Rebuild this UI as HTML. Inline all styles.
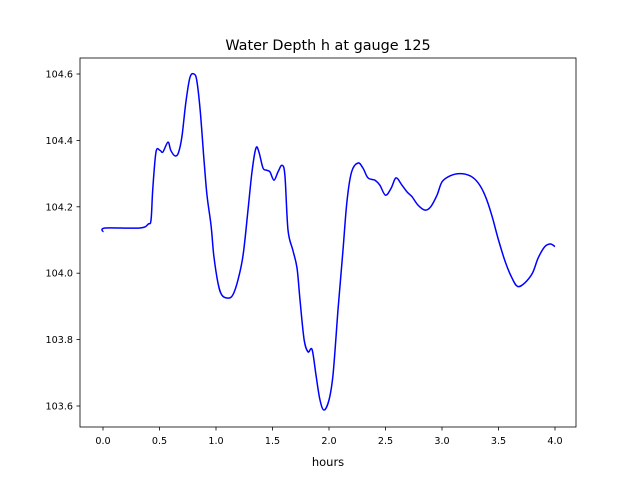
<!DOCTYPE html>
<html><head><meta charset="utf-8"><style>
html,body{margin:0;padding:0;background:#fff;}
svg{display:block;font-family:"DejaVu Sans","Liberation Sans",sans-serif;}
</style></head><body>
<svg id="chart" width="640" height="480">
<rect x="0" y="0" width="640" height="480" fill="#fff"/>
<text x="328" y="50" text-anchor="middle" font-size="14.4" fill="#000">Water Depth h at gauge 125</text>
<g id="axes"></g>
<text x="328" y="466" text-anchor="middle" font-size="11.5" fill="#000">hours</text>
</svg>
<script>
const hours=[0,0.02,0.327,0.40,0.425,0.44,0.469,0.504,0.53,0.575,0.60,0.64,0.67,0.70,0.735,0.77,0.805,0.83,0.86,0.894,0.92,0.956,0.98,1.018,1.05,1.106,1.15,1.195,1.24,1.283,1.32,1.354,1.38,1.416,1.45,1.478,1.513,1.549,1.584,1.61,1.637,1.68,1.717,1.743,1.78,1.814,1.85,1.885,1.92,1.956,2.0,2.035,2.08,2.124,2.16,2.2,2.257,2.3,2.345,2.407,2.45,2.5,2.55,2.593,2.646,2.69,2.735,2.788,2.85,2.9,2.956,3.0,3.07,3.16,3.25,3.32,3.38,3.44,3.5,3.56,3.62,3.67,3.73,3.8,3.85,3.91,3.96,4.0];
const depth=[104.124,104.136,104.136,104.148,104.16,104.25,104.365,104.37,104.365,104.395,104.37,104.353,104.365,104.415,104.52,104.59,104.6,104.58,104.49,104.34,104.235,104.145,104.055,103.97,103.935,103.925,103.935,103.98,104.055,104.19,104.31,104.377,104.365,104.317,104.31,104.305,104.28,104.305,104.325,104.295,104.13,104.07,104.016,103.92,103.8,103.763,103.77,103.693,103.618,103.588,103.618,103.693,103.89,104.07,104.22,104.305,104.332,104.317,104.287,104.28,104.265,104.235,104.256,104.287,104.265,104.245,104.23,104.205,104.19,104.2,104.235,104.275,104.293,104.3,104.293,104.272,104.235,104.175,104.1,104.034,103.985,103.96,103.97,104.0,104.045,104.08,104.088,104.08];
const xTicks=[0.0,0.5,1.0,1.5,2.0,2.5,3.0,3.5,4.0];
const yTicks=[103.6,103.8,104.0,104.2,104.4,104.6];
const NS="http://www.w3.org/2000/svg";
const L=80,R=576,T=58,B=427;
function xs(v){return 103+v*113;}
function ys(v){return 74+(104.6-v)*332;}
const g=document.getElementById('axes');
function mk(t,a){const e=document.createElementNS(NS,t);for(const k in a)e.setAttribute(k,a[k]);return e;}
const frame=mk('rect',{x:L,y:T,width:R-L,height:B-T,fill:'none',stroke:'#000','stroke-width':0.8});


xTicks.forEach(v=>{const x=xs(v);
const t=mk('line',{x1:x,x2:x,y1:B,y2:B+3.5,stroke:'#000','stroke-width':0.8});


g.appendChild(t);
const l=mk('text',{x:x,y:B+17,'text-anchor':'middle','font-size':9.6,fill:'#000'});
l.textContent=v.toFixed(1);


g.appendChild(l);});
yTicks.forEach(v=>{const y=ys(v);
const t=mk('line',{x1:L-3.5,x2:L,y1:y,y2:y,stroke:'#000','stroke-width':0.8});


g.appendChild(t);
const l=mk('text',{x:L-7,y:y+3.5,'text-anchor':'end','font-size':9.6,fill:'#000'});
l.textContent=v.toFixed(1);


g.appendChild(l);});
const P=hours.map((h,i)=>[xs(h),ys(depth[i])]);
let d='M'+P[0][0].toFixed(1)+','+P[0][1].toFixed(1);
for(let i=0;i<P.length-1;i++){
const p0=P[Math.max(0,i-1)],p1=P[i],p2=P[i+1],p3=P[Math.min(P.length-1,i+2)];
const c1=[p1[0]+(p2[0]-p0[0])/6,p1[1]+(p2[1]-p0[1])/6];
const c2=[p2[0]-(p3[0]-p1[0])/6,p2[1]-(p3[1]-p1[1])/6];
d+='C'+c1[0].toFixed(1)+','+c1[1].toFixed(1)+' '+c2[0].toFixed(1)+','+c2[1].toFixed(1)+' '+p2[0].toFixed(1)+','+p2[1].toFixed(1);
}
const p=mk('path',{d:d,fill:'none',stroke:'#0000ff','stroke-width':1.5,'stroke-linejoin':'round'});


g.appendChild(p);
g.appendChild(frame);
</script>
</body></html>
